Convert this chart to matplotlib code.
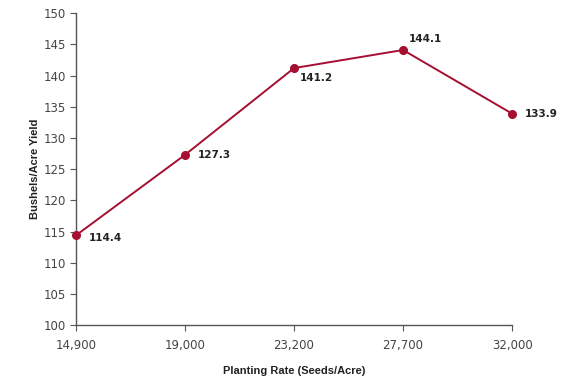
import matplotlib
matplotlib.use("Agg")
import matplotlib.pyplot as plt

# planting rate categories and yields
rates = ["14,900", "19,000", "23,200", "27,700", "32,000"]
yields = [114.4, 127.3, 141.2, 144.1, 133.9]
# label offsets in points (dx, dy)
label_offsets = [(9, -2), (9, 0), (4, -7), (4, 8), (9, 0)]

line_color = "#A50F30"
tick_color = "#555555"
label_font = "Liberation Sans"

fig = plt.figure(figsize=(5.76, 3.88), dpi=100)
ax = fig.add_axes([0.132, 0.162, 0.757, 0.804])

x = list(range(len(rates)))
ax.plot(x, yields, color=line_color, linewidth=1.4, marker="o", markersize=5.5,
        clip_on=False, zorder=3)

for xi, yi, (dx, dy) in zip(x, yields, label_offsets):
    ax.annotate(f"{yi:.1f}", (xi, yi), xytext=(dx, dy), textcoords="offset points",
                ha="left", va="center", fontsize=7.5, fontweight="bold",
                color="#222222")

ax.set_xlim(0, len(rates) - 1)
ax.set_ylim(100, 150)
ax.set_xticks(x)
ax.set_xticklabels(rates)
ax.set_yticks(range(100, 151, 5))

for side in ["top", "right"]:
    ax.spines[side].set_visible(False)
for side in ["left", "bottom"]:
    ax.spines[side].set_color("#555555")
    ax.spines[side].set_linewidth(1.0)

ax.tick_params(axis="both", colors=tick_color, labelsize=8.5, length=4, width=0.8,
               labelcolor="#444444")
ax.tick_params(axis="x", pad=6)

ax.set_xlabel("Planting Rate (Seeds/Acre)", fontsize=8, fontweight="bold",
              family=label_font, color="#222222", labelpad=10)
ax.set_ylabel("Bushels/Acre Yield", fontsize=8, fontweight="bold",
              family=label_font, color="#222222", labelpad=2)

fig.savefig("out.png", dpi=100)
